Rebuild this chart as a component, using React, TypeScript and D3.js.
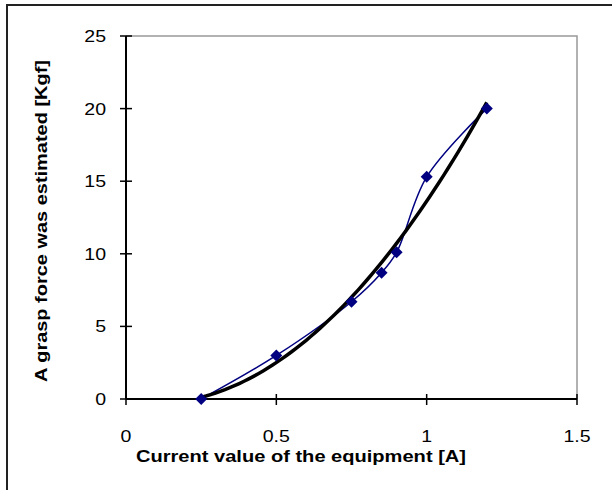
import React, { useEffect, useRef } from 'react';
import * as d3 from 'd3';

// measured points
const currentA = [0.25, 0.5, 0.75, 0.85, 0.9, 1.0, 1.2];
const forceKgf = [0, 3.0, 6.7, 8.7, 10.1, 15.3, 20.0];

const xTicks = [0, 0.5, 1, 1.5];
const yTicks = [0, 5, 10, 15, 20, 25];

const xTitle = 'Current value of the equipment [A]';
const yTitle = 'A grasp force was estimated [Kgf]';

// least squares fit, 2nd order polynomial (Excel style trendline)
const fitQuadratic = (xs: number[], ys: number[]) => {
    const n = xs.length;
    let s1 = 0, s2 = 0, s3 = 0, s4 = 0, t0 = 0, t1 = 0, t2 = 0;
    for (let i = 0; i < n; i++) {
        const x = xs[i], y = ys[i];
        s1 += x; s2 += x * x; s3 += x * x * x; s4 += x * x * x * x;
        t0 += y; t1 += x * y; t2 += x * x * y;
    }
    const m = [
        [n, s1, s2, t0],
        [s1, s2, s3, t1],
        [s2, s3, s4, t2],
    ];
    for (let i = 0; i < 3; i++) {
        for (let k = i + 1; k < 3; k++) {
            const f = m[k][i] / m[i][i];
            for (let j = i; j < 4; j++) m[k][j] -= f * m[i][j];
        }
    }
    const c = [0, 0, 0];
    for (let i = 2; i >= 0; i--) {
        let s = m[i][3];
        for (let j = i + 1; j < 3; j++) s -= m[i][j] * c[j];
        c[i] = s / m[i][i];
    }
    return (x: number) => c[0] + c[1] * x + c[2] * x * x;
};

const App: React.FC = () => {
    const svgRef = useRef<SVGSVGElement>(null);

    useEffect(() => {
        if (!svgRef.current) return;
        const svg = d3.select(svgRef.current);
        svg.selectAll('*').remove();

        const left = 126, right = 577, top = 36, bottom = 399;
        const x = d3.scaleLinear().domain([0, 1.5]).range([left, right]);
        const y = d3.scaleLinear().domain([0, 25]).range([bottom, top]);
        const font = 'Arial, "Liberation Sans", sans-serif';

        // outer frame
        svg.append('rect')
            .attr('x', 7)
            .attr('y', 5)
            .attr('width', 620)
            .attr('height', 500)
            .attr('fill', 'none')
            .attr('stroke', '#222')
            .attr('stroke-width', 2);

        // plot area border (top & right)
        svg.append('path')
            .attr('d', `M${left},${top}H${right}V${bottom}`)
            .attr('fill', 'none')
            .attr('stroke', '#999')
            .attr('stroke-width', 1.5);

        // axes
        svg.append('line')
            .attr('x1', left).attr('x2', left)
            .attr('y1', top).attr('y2', bottom)
            .attr('stroke', '#000').attr('stroke-width', 2);
        svg.append('line')
            .attr('x1', left).attr('x2', right)
            .attr('y1', bottom).attr('y2', bottom)
            .attr('stroke', '#000').attr('stroke-width', 2);

        svg.append('g').selectAll('line')
            .data(yTicks)
            .enter()
            .append('line')
            .attr('x1', left - 6).attr('x2', left + 6)
            .attr('y1', (d: number) => y(d)).attr('y2', (d: number) => y(d))
            .attr('stroke', '#000').attr('stroke-width', 1.5);
        svg.append('g').selectAll('text')
            .data(yTicks)
            .enter()
            .append('text')
            .attr('transform', (d: number) => `translate(106,${y(d) + 6}) scale(1.15,1)`)
            .attr('text-anchor', 'end')
            .style('font-family', font)
            .style('font-size', '17px')
            .text((d: number) => String(d));

        svg.append('g').selectAll('line')
            .data(xTicks)
            .enter()
            .append('line')
            .attr('x1', (d: number) => x(d)).attr('x2', (d: number) => x(d))
            .attr('y1', bottom - 5).attr('y2', bottom + 6)
            .attr('stroke', '#000').attr('stroke-width', 1.5);
        svg.append('g').selectAll('text')
            .data(xTicks)
            .enter()
            .append('text')
            .attr('transform', (d: number) => `translate(${x(d)},442) scale(1.15,1)`)
            .attr('text-anchor', 'middle')
            .style('font-family', font)
            .style('font-size', '17px')
            .text((d: number) => String(d));

        // titles
        svg.append('text')
            .attr('x', 301)
            .attr('y', 462)
            .attr('text-anchor', 'middle')
            .attr('textLength', 330)
            .attr('lengthAdjust', 'spacingAndGlyphs')
            .style('font-family', font)
            .style('font-size', '17px')
            .style('font-weight', 'bold')
            .text(xTitle);
        svg.append('text')
            .attr('transform', 'translate(47,221) rotate(-90)')
            .attr('text-anchor', 'middle')
            .attr('textLength', 322)
            .attr('lengthAdjust', 'spacingAndGlyphs')
            .style('font-family', font)
            .style('font-size', '17px')
            .style('font-weight', 'bold')
            .text(yTitle);

        const points = currentA.map((c, i) => [c, forceKgf[i]] as [number, number]);

        // smoothed data line
        const smooth = d3.line<[number, number]>()
            .x((d) => x(d[0]))
            .y((d) => y(d[1]))
            .curve(d3.curveCatmullRom.alpha(0.5));
        svg.append('path')
            .datum(points)
            .attr('d', smooth)
            .attr('fill', 'none')
            .attr('stroke', '#000080')
            .attr('stroke-width', 1.5);

        // polynomial trendline
        const f = fitQuadratic(currentA, forceKgf);
        const x0 = currentA[0], x1 = currentA[currentA.length - 1];
        const trend = d3.range(0, 61).map((i) => {
            const xv = x0 + ((x1 - x0) * i) / 60;
            return [xv, f(xv)] as [number, number];
        });
        svg.append('path')
            .datum(trend)
            .attr('d', d3.line<[number, number]>().x((d) => x(d[0])).y((d) => y(d[1])))
            .attr('fill', 'none')
            .attr('stroke', '#000')
            .attr('stroke-width', 3.5);

        // diamond markers
        svg.append('g').selectAll('path')
            .data(points)
            .enter()
            .append('path')
            .attr('transform', (d: [number, number]) => `translate(${x(d[0])},${y(d[1])})`)
            .attr('d', 'M0,-6L6,0L0,6L-6,0Z')
            .attr('fill', '#000080');
    }, []);

    return (
        <svg
            ref={svgRef}
            width={612}
            height={490}
            style={{ position: 'absolute', left: 0, top: 0, background: '#fff' }}
        />
    );
};

export default App;
